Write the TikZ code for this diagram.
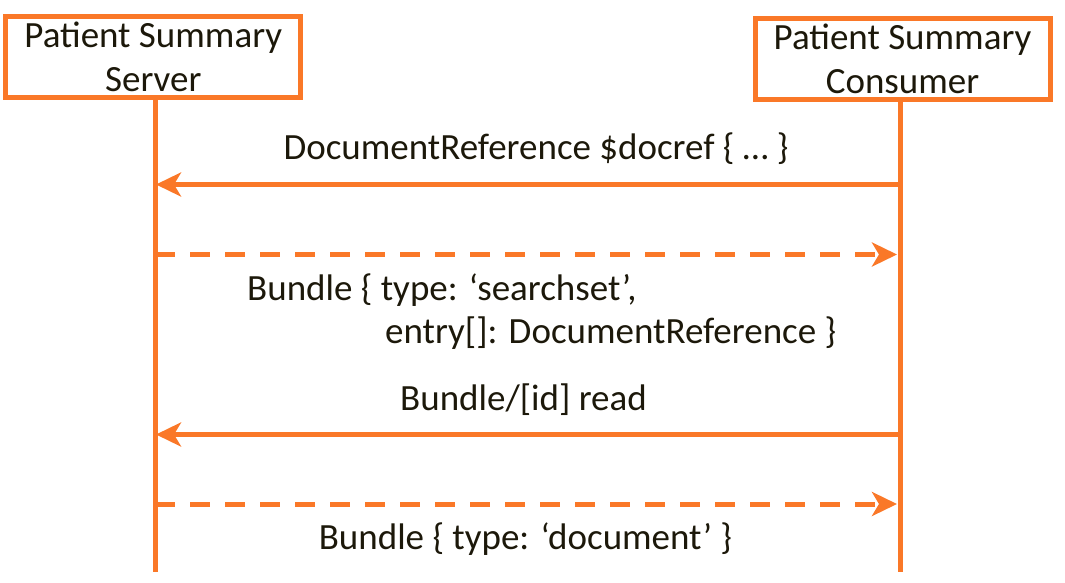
\documentclass[tikz,border=0pt]{standalone}
\usepackage{fontspec}
\setmainfont{Carlito}
\usetikzlibrary{arrows.meta}
\definecolor{orng}{RGB}{250,120,40}
\definecolor{ink}{RGB}{28,24,10}
\tikzset{
  actor/.style={draw=orng, line width=5pt, fill=white, inner sep=0pt,
    minimum width=295pt, minimum height=81pt, align=center, text=ink,
    font=\fontsize{37pt}{44pt}\selectfont},
  life/.style={draw=orng, line width=5pt},
  msg/.style={draw=orng, line width=5pt, -{Stealth[length=25pt,width=24pt,inset=7pt]}},
  reply/.style={msg, dash pattern=on 20pt off 15pt},
  lbl/.style={text=ink, font=\fontsize{37pt}{44pt}\selectfont, inner sep=0pt}
}
\begin{document}
\begin{tikzpicture}[x=1pt,y=-1pt]
\useasboundingbox (0,0) rectangle (1065,583);
% actors
\node[actor] (server) at (153.25,57.25) {Patient Summary\\Server};
\node[actor] (consumer) at (902.5,59) {Patient Summary\\Consumer};
% lifeline ends
\coordinate (sEnd) at (155,572);
\coordinate (cEnd) at (900,572);
\draw[life] (server.south -| sEnd) -- (sEnd);
\draw[life] (consumer.south -| cEnd) -- (cEnd);
% message points
\coordinate (s1) at (156,184.5); \coordinate (c1) at (900,184.5);
\coordinate (s2) at (155,254.5); \coordinate (c2) at (897,254.5);
\coordinate (s3) at (156,434.5); \coordinate (c3) at (900,434.5);
\coordinate (s4) at (155,504);   \coordinate (c4) at (897,504);
\draw[msg] (c1) -- (s1);
\draw[reply] (s2) -- (c2);
\draw[msg] (c3) -- (s3);
\draw[reply] (s4) -- (c4);
% labels
\node[lbl, anchor=base] (l1) at (536,159) {DocumentReference \$docref \{ … \}};
\node[lbl, anchor=base west] (l2a) at (247,300) {Bundle \{ type: ‘searchset’,};
\node[lbl, anchor=base west] (l2b) at (385,343) {entry[]: DocumentReference \}};
\node[lbl, anchor=base] (l3) at (523.5,410) {Bundle/[id] read};
\node[lbl, anchor=base] (l4) at (525.5,549) {Bundle \{ type: ‘document’ \}};
\end{tikzpicture}
\end{document}
